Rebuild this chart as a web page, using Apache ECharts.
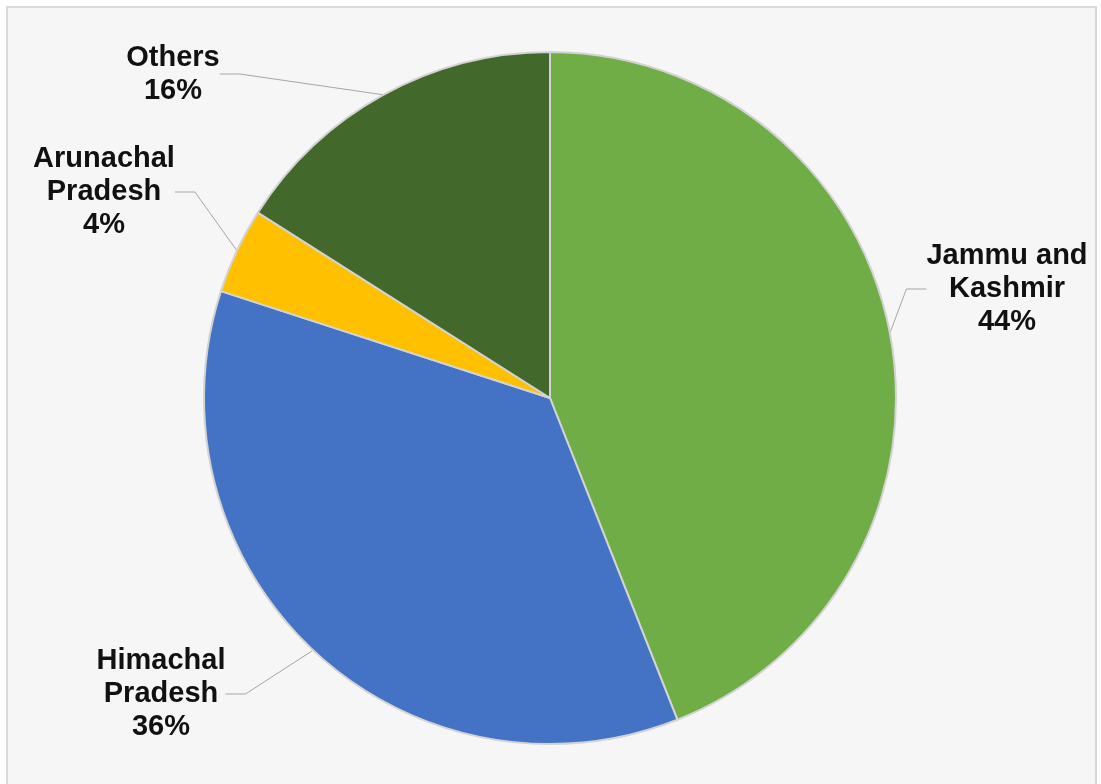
<!DOCTYPE html>
<html>
<head>
<meta charset="utf-8">
<script src="https://cdn.jsdelivr.net/npm/echarts@6/dist/echarts.min.js"></script>
<style>
html,body{margin:0;padding:0;background:#fff;}
#chart{width:1101px;height:784px;}
</style>
</head>
<body>
<div id="chart"></div>
<script>
const categories = ['Jammu and\nKashmir', 'Himachal\nPradesh', 'Arunachal\nPradesh', 'Others'];
const values = [44, 36, 4, 16];
const colors = ['#70AD47', '#4472C4', '#FFC000', '#43682B'];
// label block centres (layout only)
const labelPos = [[1007, 289], [161, 694], [104, 192], [173, 74]];

const chart = echarts.init(document.getElementById('chart'), null, {renderer: 'canvas'});
const option = {
  animation: false,
  backgroundColor: '#ffffff',
  graphic: [{
    type: 'rect', z: -10, silent: true,
    shape: {x: 7, y: 7, width: 1089, height: 800},
    style: {fill: '#f6f6f6', stroke: '#d9d9d9', lineWidth: 2}
  }],
  series: [{
    type: 'pie',
    center: [550, 398],
    radius: [0, 346],
    startAngle: 90,
    clockwise: true,
    data: categories.map((c, i) => ({name: c, value: values[i], itemStyle: {color: colors[i]}})),
    itemStyle: {borderColor: '#d3d3d3', borderWidth: 2},
    label: {
      show: true,
      position: 'outside',
      formatter: p => p.name + '\n' + Math.round(p.percent) + '%',
      fontFamily: 'Liberation Sans, Arial, sans-serif',
      fontWeight: 'bold',
      fontSize: 29,
      lineHeight: 33,
      color: '#111',
      align: 'center',
      overflow: 'none'
    },
    labelLine: {show: true, length: 20, length2: 20, lineStyle: {color: '#a6a6a6', width: 1}},
    labelLayout: function (params) {
      const p = labelPos[params.dataIndex];
      return {x: p[0], y: p[1], align: 'center', verticalAlign: 'middle'};
    }
  }]
};
chart.setOption(option);
</script>
</body>
</html>
